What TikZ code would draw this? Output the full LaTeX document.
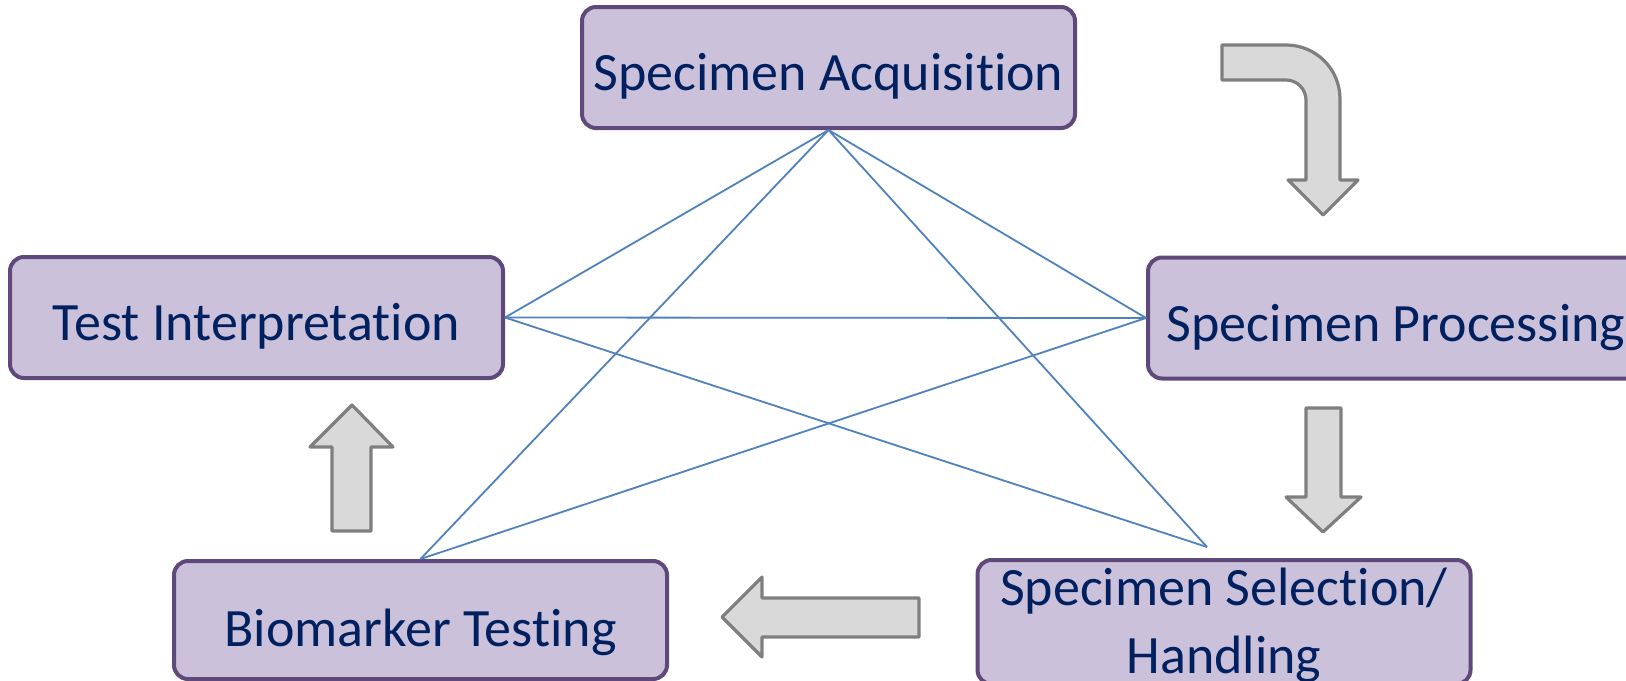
\documentclass[tikz,border=0pt]{standalone}
\usepackage{fontspec}
\setmainfont{Carlito}[Ligatures={NoCommon,NoContextual}]
\definecolor{boxfill}{HTML}{CCC1DA}
\definecolor{boxline}{HTML}{5F497A}
\definecolor{boxtext}{HTML}{002060}
\definecolor{linkblue}{HTML}{4F81BD}
\definecolor{arrowfill}{HTML}{D9D9D9}
\definecolor{arrowline}{HTML}{7F7F7F}
\tikzset{
  stage/.style={draw=boxline, fill=boxfill, line width=2pt, rounded corners=7pt,
    text=boxtext, font=\fontsize{27}{34}\selectfont, align=center, inner sep=0pt,
    minimum width=246.5pt, minimum height=60.5pt,
    text height=23pt, text depth=0pt},
  link/.style={draw=linkblue, line width=0.9pt},
  blockarrow/.style={draw=arrowline, fill=arrowfill, line width=1.6pt, line join=round}
}
\begin{document}
\begin{tikzpicture}[x=0.5pt, y=-0.5pt]
  \useasboundingbox (0,0) rectangle (1626,680);
  \clip (0,0) rectangle (1626,680);

  % the five stages
  \node[stage] (acq)  at (828.5,67.5) {Specimen Acquisition};
  \node[stage] (interp) at (256.5,317.5) {Test Interpretation};
  \node[stage, minimum width=248pt] (proc) at (1396,318) {Specimen Processing};
  \node[stage, minimum height=62pt, text height=51pt] (sel) at (1224,622) {Specimen Selection/\\Handling};
  \node[stage, minimum height=59pt, text height=26pt] (bio) at (420.5,620) {Biomarker Testing};
  \coordinate (selTop) at (1207,547);

  % web of links between the stages
  \draw[link] (acq.south) -- (interp.east);
  \draw[link] (acq.south) -- (proc.west);
  \draw[link] (acq.south) -- (bio.north);
  \draw[link] (acq.south) -- (selTop);
  \draw[link] (interp.east) -- (proc.west);
  \draw[link] (interp.east) -- (selTop);
  \draw[link] (bio.north) -- (proc.west);

  % bent arrow: acquisition -> processing
  \draw[blockarrow] (1222,45) -- (1286,45)
    .. controls (1316,45) and (1340,69) .. (1340,99)
    -- (1340,180) -- (1358,180) -- (1323,215) -- (1288,180) -- (1306,180)
    -- (1306,100) .. controls (1306,89) and (1297,80) .. (1286,80)
    -- (1222,80) -- cycle;

  % down arrow: processing -> selection
  \draw[blockarrow] (1306,408) -- (1341,408) -- (1341,497) -- (1361,497)
    -- (1323,532) -- (1286,497) -- (1306,497) -- cycle;

  % left arrow: selection -> testing
  \draw[blockarrow] (919,598) -- (919,637) -- (762,637) -- (762,657)
    -- (722,617) -- (762,577) -- (762,598) -- cycle;

  % up arrow: testing -> interpretation
  \draw[blockarrow] (332,531) -- (371,531) -- (371,447) -- (393,447)
    -- (352,405) -- (310,447) -- (332,447) -- cycle;
\end{tikzpicture}
\end{document}
